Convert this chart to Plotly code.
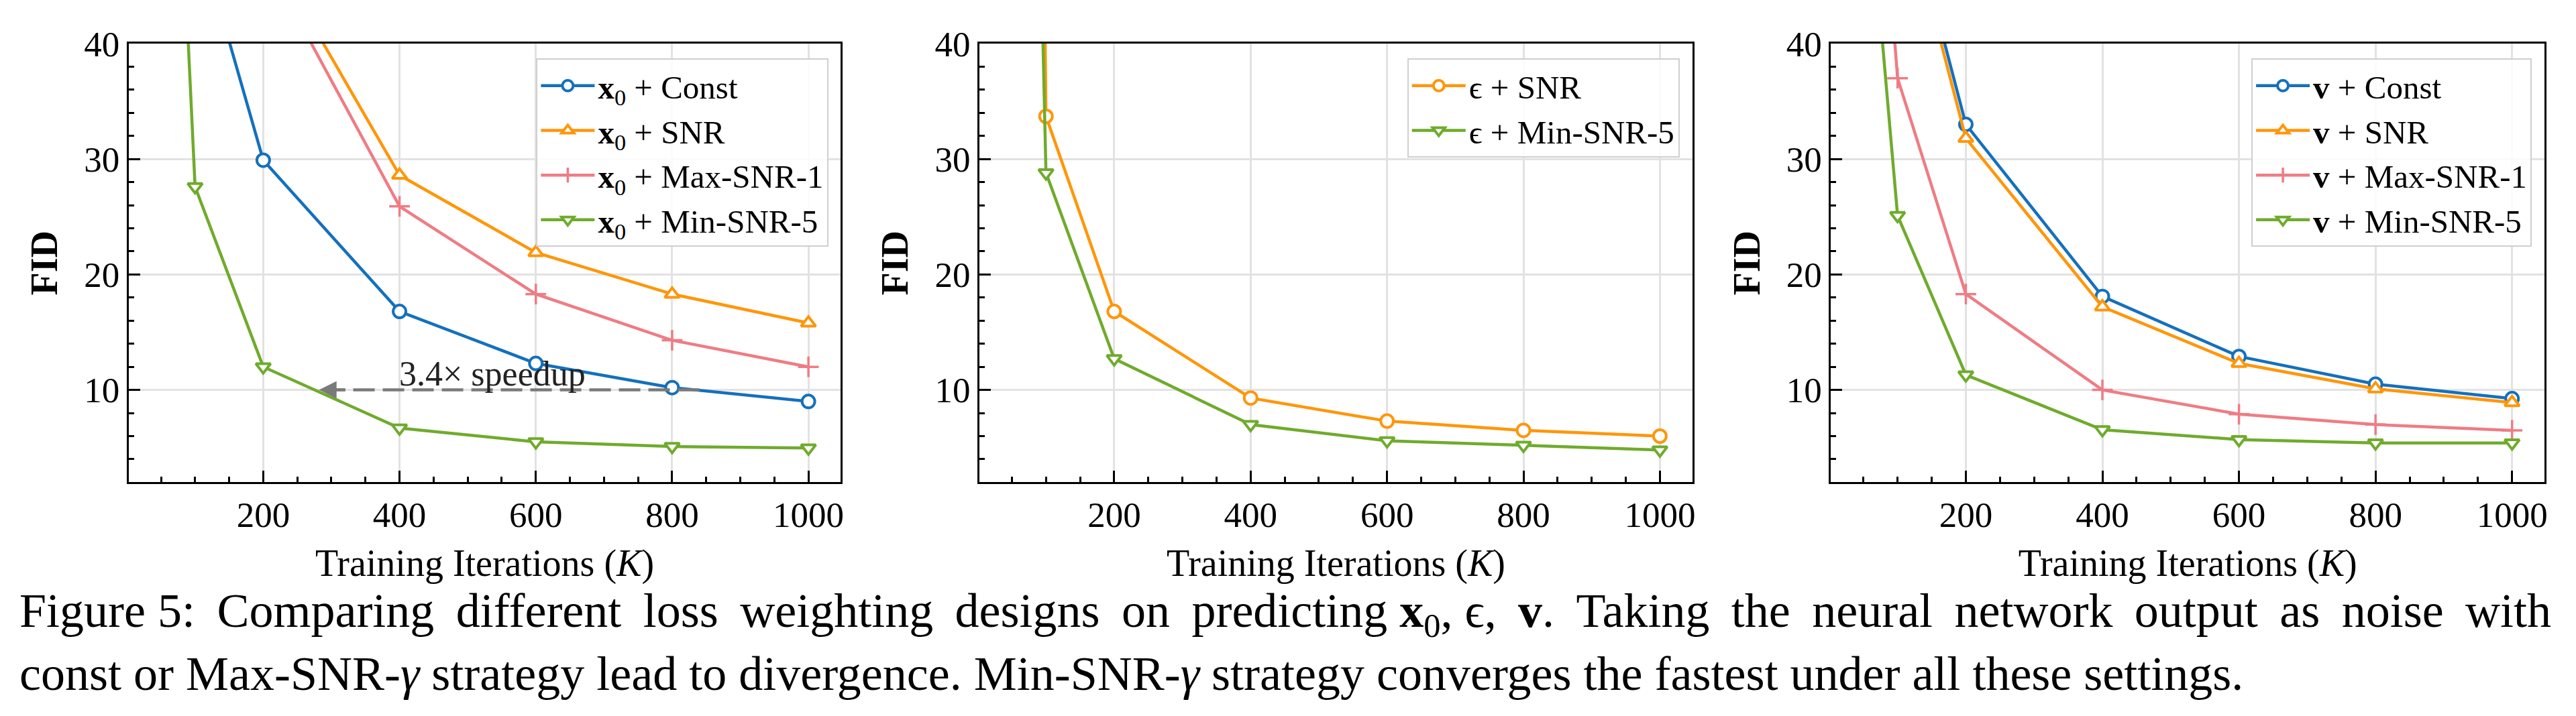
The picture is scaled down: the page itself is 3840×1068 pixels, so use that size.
import plotly.graph_objects as go

# ---------------- data ----------------
ITERS = [50, 100, 200, 400, 600, 800, 1000]

# panel 1: predicting x0
X0_CONST = [95, 50.5, 29.9, 16.8, 12.3, 10.2, 9.0]
X0_SNR = [120, 80, 49.0, 28.6, 21.9, 18.3, 15.8]
X0_MAXSNR1 = [115, 75, 47.7, 25.9, 18.3, 14.3, 12.0]
X0_MINSNR5 = [90, 27.6, 12.0, 6.7, 5.5, 5.1, 4.97]

# panel 2: predicting epsilon
EPS_SNR = [300, 33.7, 16.8, 9.3, 7.3, 6.5, 6.0]
EPS_MINSNR5 = [156, 28.8, 12.7, 7.0, 5.6, 5.2, 4.8]

# panel 3: predicting v
V_CONST = [80, 55.6, 33.0, 18.1, 12.9, 10.5, 9.25]
V_SNR = [78, 54.5, 31.8, 17.2, 12.3, 10.1, 8.9]
V_MAXSNR1 = [75, 37.0, 18.3, 10.0, 7.9, 7.0, 6.5]
V_MINSNR5 = [59, 25.1, 11.3, 6.55, 5.7, 5.4, 5.4]

X_TICKS = [200, 400, 600, 800, 1000]
Y_TICKS = [10, 20, 30, 40]
X_RANGE = [2.5, 1047.5]
Y_RANGE = [2, 40]

SPEEDUP_Y = 10
SPEEDUP_FROM = 840
SPEEDUP_TO = 282
SPEEDUP_LABEL = "3.4× speedup"
SPEEDUP_LABEL_X = 536
SPEEDUP_LABEL_Y = 11.4

X_TITLE = "Training Iterations (<i>K</i>)"
Y_TITLE = "<b>FID</b>"
CAPTION_1_WORDS = ["Figure", "5:", "Comparing", "different", "loss", "weighting", "designs",
                   "on", "predicting", "<b>x</b><sub>0</sub>,", "ϵ,", "<b>v</b>.", "Taking",
                   "the", "neural", "network", "output", "as", "noise", "with"]
CAPTION_2 = ("const or Max-SNR-<i>γ</i> strategy lead to divergence. Min-SNR-<i>γ</i> "
             "strategy converges the fastest under all these settings.")

# ---------------- style ----------------
W, H = 3840, 1068
BLUE = "#1470BD"
ORANGE = "#FF960A"
PINK = "#EF7C84"
GREEN = "#6FAB2C"
GRAY = "#7a7a7a"
SERIF = "Liberation Serif, Times New Roman, serif"

PANELS_PX = [(192, 1255), (1462, 2526), (2733, 3798)]
TOP_PX, BOTTOM_PX = 38, 710
LEGEND_RIGHT_PX = [1237, 2507, 3779]
LEGEND_TOP_PX = 61

X0 = "<b>x</b><sub>0</sub>"
V = "<b>v</b>"

series = [
    # panel, name, values, color, symbol
    (1, f"{X0} + Const", X0_CONST, BLUE, "circle"),
    (1, f"{X0} + SNR", X0_SNR, ORANGE, "triangle-up"),
    (1, f"{X0} + Max-SNR-1", X0_MAXSNR1, PINK, "cross-thin"),
    (1, f"{X0} + Min-SNR-5", X0_MINSNR5, GREEN, "triangle-down"),
    (2, "ϵ + SNR", EPS_SNR, ORANGE, "circle"),
    (2, "ϵ + Min-SNR-5", EPS_MINSNR5, GREEN, "triangle-down"),
    (3, f"{V} + Const", V_CONST, BLUE, "circle"),
    (3, f"{V} + SNR", V_SNR, ORANGE, "triangle-up"),
    (3, f"{V} + Max-SNR-1", V_MAXSNR1, PINK, "cross-thin"),
    (3, f"{V} + Min-SNR-5", V_MINSNR5, GREEN, "triangle-down"),
]

fig = go.Figure()


def sfx(p):
    return "" if p == 1 else str(p)


for p, name, vals, color, sym in series:
    if sym == "cross-thin":
        marker = dict(symbol=sym, size=22, color=color, line=dict(color=color, width=3.5))
    else:
        marker = dict(symbol=sym, size=19, color="white", line=dict(color=color, width=4))
    fig.add_trace(go.Scatter(
        x=ITERS, y=vals, name=name, mode="lines+markers",
        line=dict(color=color, width=4.5), marker=marker,
        xaxis="x" + sfx(p), yaxis="y" + sfx(p), legend="legend" + sfx(p),
        hoverinfo="skip",
    ))

# speedup dashed arrow on panel 1
fig.add_trace(go.Scatter(
    x=[SPEEDUP_FROM, SPEEDUP_TO + 8], y=[SPEEDUP_Y, SPEEDUP_Y], mode="lines",
    line=dict(color=GRAY, width=4.5, dash="32px,12px"), showlegend=False,
    hoverinfo="skip", xaxis="x", yaxis="y",
))
fig.add_annotation(
    x=SPEEDUP_TO, y=SPEEDUP_Y, ax=SPEEDUP_TO + 40, ay=SPEEDUP_Y,
    xref="x", yref="y", axref="x", ayref="y", text="", showarrow=True,
    arrowhead=2, arrowsize=1.3, arrowwidth=4, arrowcolor=GRAY,
)
fig.add_annotation(
    x=SPEEDUP_LABEL_X, y=SPEEDUP_LABEL_Y, xref="x", yref="y", text=SPEEDUP_LABEL,
    showarrow=False, font=dict(family=SERIF, size=52, color="#222"),
    xanchor="center", yanchor="middle",
)

axis_common = dict(
    showline=True, linecolor="black", linewidth=3, mirror=True,
    ticks="inside", tickwidth=3, tickcolor="black",
    showgrid=True, gridcolor="#e2e2e2", gridwidth=2.5, zeroline=False,
    tickfont=dict(family=SERIF, size=53, color="black"),
)

layout = dict(
    width=W, height=H, margin=dict(l=0, r=0, t=0, b=0),
    paper_bgcolor="white", plot_bgcolor="white",
    font=dict(family=SERIF, color="black"),
)
for i, (l, r) in enumerate(PANELS_PX, start=1):
    s = sfx(i)
    layout["xaxis" + s] = dict(
        axis_common, domain=[l / W, r / W], range=X_RANGE, anchor="y" + s,
        tickvals=X_TICKS, ticklen=17,
        minor=dict(ticks="inside", ticklen=8, tickwidth=2.5, dtick=50, tick0=0,
                   tickcolor="black", showgrid=False),
        title=dict(text=X_TITLE, font=dict(family=SERIF, size=56), standoff=24),
    )
    layout["yaxis" + s] = dict(
        axis_common, domain=[1 - BOTTOM_PX / H, 1 - TOP_PX / H], range=Y_RANGE,
        anchor="x" + s, tickvals=Y_TICKS, ticklen=17,
        minor=dict(ticks="inside", ticklen=8, tickwidth=2.5, dtick=2, tick0=0,
                   tickcolor="black", showgrid=False),
        title=dict(text=Y_TITLE, font=dict(family=SERIF, size=56), standoff=22),
    )
    layout["legend" + s] = dict(
        x=LEGEND_RIGHT_PX[i - 1] / W, xanchor="right",
        y=1 - LEGEND_TOP_PX / H, yanchor="top",
        bgcolor="rgba(255,255,255,0.85)", bordercolor="#cfcfcf", borderwidth=2,
        font=dict(family=SERIF, size=49, color="black"),
        itemwidth=80, tracegroupgap=0,
    )

fig.update_layout(**layout)

# caption line 1 is justified in the source: widen most inter-word gaps a little
NARROW_GAPS = {1, 9, 10}
caption_1 = CAPTION_1_WORDS[0]
for k, w in enumerate(CAPTION_1_WORDS[1:], start=1):
    caption_1 += (" " if k in NARROW_GAPS else " \u2009") + w
fig.add_annotation(x=27 / W, y=1 - 912 / H, xref="paper", yref="paper", text=caption_1,
                   showarrow=False, xanchor="left", yanchor="middle",
                   font=dict(family=SERIF, size=72, color="black"))
fig.add_annotation(x=27 / W, y=1 - 1003 / H, xref="paper", yref="paper", text=CAPTION_2,
                   showarrow=False, xanchor="left", yanchor="middle",
                   font=dict(family=SERIF, size=72, color="black"))

fig.write_html("out.html", config={"displayModeBar": False},
               post_script="document.body.style.margin='0';")
